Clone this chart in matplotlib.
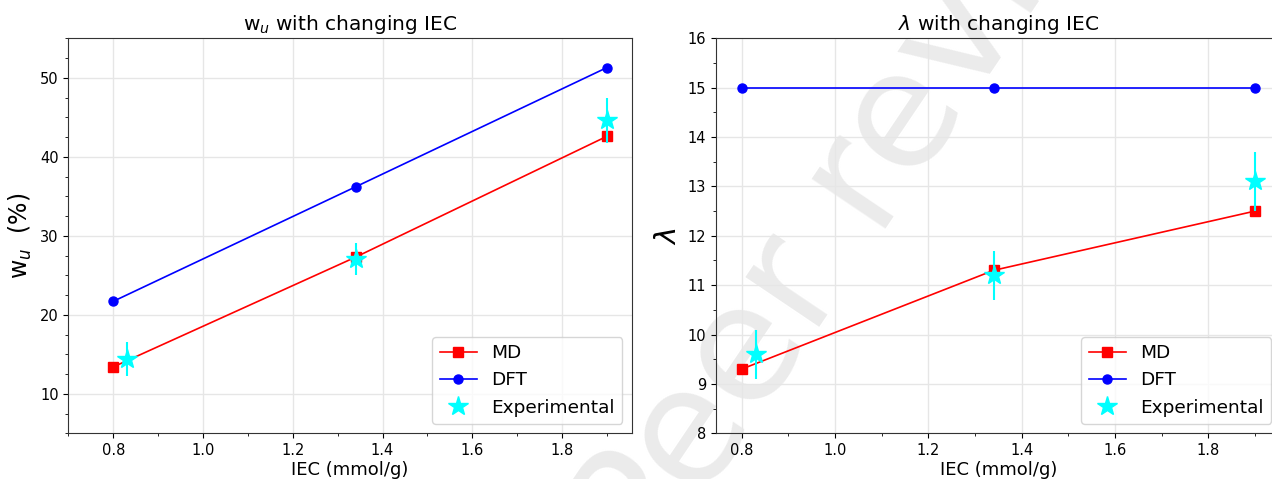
import numpy as np
import matplotlib
matplotlib.use("Agg")
import matplotlib.pyplot as plt
from matplotlib.ticker import MultipleLocator

# IEC values (mmol/g)
iec = [0.8, 1.34, 1.9]
iec_exp = [0.83, 1.34, 1.9]

# water uptake w_u (%)
wu_md = [13.4, 27.3, 42.6]
wu_dft = [21.7, 36.2, 51.3]
wu_exp = [14.4, 27.1, 44.6]
wu_exp_err = [2.2, 2.0, 2.8]

# hydration number lambda
lam_md = [9.3, 11.3, 12.5]
lam_dft = [15.0, 15.0, 15.0]
lam_exp = [9.6, 11.2, 13.1]
lam_exp_err = [0.5, 0.5, 0.6]


def draw_panel(ax, md, dft, exp, err, title, ylabel, ylabel_size, ylim, yminor):
    ax.set_facecolor("none")
    ax.plot(iec, md, "rs-", ms=6.5, lw=1.2, label="MD")
    ax.plot(iec, dft, "bo-", ms=6.5, lw=1.2, label="DFT")
    ax.errorbar(iec_exp, exp, yerr=err, fmt="none", ecolor="cyan", elinewidth=1.5)
    ax.plot(iec_exp, exp, "*", color="cyan", ms=15, label="Experimental")
    ax.set_title(title, fontsize=14.5)
    ax.set_xlabel("IEC (mmol/g)", fontsize=13, labelpad=2)
    ax.set_ylabel(ylabel, fontsize=ylabel_size)
    ax.set_ylim(*ylim)
    ax.xaxis.set_major_locator(MultipleLocator(0.2))
    ax.xaxis.set_minor_locator(MultipleLocator(0.1))
    ax.yaxis.set_minor_locator(MultipleLocator(yminor))
    ax.tick_params(labelsize=10.5)
    ax.grid(True, color="#e6e6e6", lw=1.0)
    ax.set_axisbelow(True)
    for s in ax.spines.values():
        s.set_color("#333333")
    ax.legend(loc="lower right", fontsize=13.3)


fig = plt.figure(figsize=(12.72, 4.79), dpi=100)
fig.patch.set_facecolor("white")

# watermark behind everything
fig.text(0.6895, 0.66, "Peer review", fontsize=117, color="#ebebeb",
         rotation=56, ha="center", va="center", zorder=-5)

ax1 = fig.add_axes([68.3 / 1272, 45.7 / 479, 563.4 / 1272, 395 / 479])
ax2 = fig.add_axes([716 / 1272, 45.7 / 479, 564.5 / 1272, 395 / 479])

draw_panel(ax1, wu_md, wu_dft, wu_exp, wu_exp_err,
           r"w$_u$ with changing IEC", r"w$_u$  (%)", 17, (5, 55), 2.5)
ax1.set_xlim(0.7, 1.955)

draw_panel(ax2, lam_md, lam_dft, lam_exp, lam_exp_err,
           r"$\lambda$ with changing IEC", r"$\lambda$", 21, (8, 16), 0.5)
ax2.set_xlim(0.745, 1.955)

fig.savefig("out.png", dpi=100)
